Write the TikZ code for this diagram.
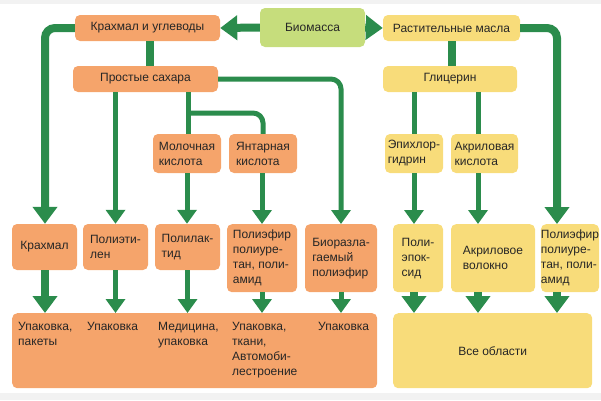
\documentclass[tikz,border=0pt]{standalone}
\usepackage{fontspec}
\setmainfont{Liberation Sans}
\usetikzlibrary{arrows.meta}
\definecolor{orb}{HTML}{F5A46B}
\definecolor{yeb}{HTML}{F8DC7A}
\definecolor{grb}{HTML}{C6DD7C}
\definecolor{ln}{HTML}{2B8C4C}
\begin{document}
\begin{tikzpicture}[x=1pt,y=-1pt,
  box/.style={rounded corners=5pt,inner sep=0pt,font=\fontsize{12}{15}\selectfont,text=black!85},
  ob/.style={box,fill=orb},
  yb/.style={box,fill=yeb},
  txt/.style={font=\fontsize{12}{15}\selectfont,text=black!85,inner sep=0pt,align=left,anchor=north west},
  thick8/.style={draw=ln,line width=8pt,rounded corners=10pt},
  thin5/.style={draw=ln,line width=5pt,rounded corners=10pt},
  a8/.style={thick8,-{Triangle[width=24pt,length=17pt]}},
  a5/.style={thin5,-{Triangle[width=19pt,length=14pt]}}]
\useasboundingbox (0,0) rectangle (601,400);
\fill[black!5] (0,0) rectangle (601,4);
\fill[black!5] (0,393) rectangle (601,400);
% nodes
\node[ob,minimum width=145,minimum height=26] (kiu) at (147.5,28) {Крахмал и углеводы};
\node[box,fill=grb,minimum width=105,minimum height=39] (bio) at (312.5,27.5) {Биомасса};
\node[yb,minimum width=137,minimum height=26] (rm) at (451.5,28) {Растительные масла};
\node[ob,minimum width=145,minimum height=26] (ps) at (145.5,79) {Простые сахара};
\node[yb,minimum width=134,minimum height=26] (gl) at (450,79) {Глицерин};
\node[ob,minimum width=68,minimum height=39,align=left] (mk) at (187,153.5) {Молочная\\кислота};
\node[ob,minimum width=68,minimum height=39,align=left] (yk) at (263,153.5) {Янтарная\\кислота};
\node[yb,minimum width=58,minimum height=39,align=left] (ep) at (414,153.5) {Эпихлор-\\гидрин};
\node[yb,minimum width=67,minimum height=39,align=left] (ak) at (484.5,153.5) {Акриловая\\кислота};
\node[ob,minimum width=65,minimum height=46] (kr) at (44.5,247) {Крахмал};
\node[ob,minimum width=65,minimum height=46,align=left] (pe) at (115.5,247) {Полиэти-\\лен};
\node[ob,minimum width=65,minimum height=46,align=left] (pl) at (187.5,247) {Полилак-\\тид};
\node[ob,minimum width=70,minimum height=68,align=left,anchor=north] (pu) at (262,224) {Полиэфир\\полиуре-\\тан, поли-\\амид};
\node[ob,minimum width=72,minimum height=68,align=left,anchor=north] (bp) at (341,224) {Биоразла-\\гаемый\\полиэфир};
\node[yb,minimum width=50,minimum height=68,align=left,anchor=north] (px) at (418,224) {Поли-\\эпок-\\сид};
\node[yb,minimum width=84,minimum height=68,align=left,anchor=north] (av) at (493,224) {Акриловое\\волокно};
\node[yb,minimum width=54,minimum height=68,align=left,anchor=north] (pu2) at (570,224) {Полиэфир\\полиуре-\\тан, поли-\\амид};
\node[ob,minimum width=365,minimum height=75,anchor=north west] (bo) at (12,313) {};
\node[yb,minimum width=199,minimum height=75,anchor=north west] (by) at (393,313) {Все области};
\node[txt] (t1) at (18,322) {Упаковка,\\пакеты};
\node[txt] (t2) at (87,322) {Упаковка};
\node[txt] (t3) at (158,322) {Медицина,\\упаковка};
\node[txt] (t4) at (232,322) {Упаковка,\\ткани,\\Автомоби-\\лестроение};
\node[txt] (t5) at (318,322) {Упаковка};
\coordinate (br) at (188,113);
\coordinate (rc) at (557,0);
\coordinate (lc) at (45,0);
\coordinate (mc) at (150,0);
\coordinate (ac) at (478,0);
% connectors
\draw[a8] (bio.west) -- (kiu.east);
\draw[a8] (bio.east) -- (rm.west);
\draw[a8] (kiu.west) -| (kr.north -| lc);
\draw[thick8] (kiu.south -| mc) -- (ps.north -| mc);
\draw[a5] (ps.south -| pe.north) -- (pe.north);
\draw[thin5] (ps.south -| br) -- (mk.north -| br);
\draw[thin5] (br) -| (yk.north);
\draw[a5] (ps.east) -| (bp.north);
\draw[a5] (mk.south) -- (pl.north -| mk.south);
\draw[a5] (yk.south -| pu.north) -- (pu.north);
\draw[thick8] (rm.south) -- (gl.north -| rm.south);
\draw[a8] (rm.east) -| (pu2.north -| rc);
\draw[thin5] (gl.south -| ep) -- (ep.north);
\draw[thin5] (gl.south -| ac) -- (ak.north -| ac);
\draw[a5] (ep.south) -- (px.north -| ep);
\draw[a5] (ak.south -| ac) -- (av.north -| ac);
\draw[a8] (kr.south -| lc) -- (bo.north -| lc);
\draw[a5] (pe.south) -- (bo.north -| pe);
\draw[a5] (pl.south) -- (bo.north -| pl);
\draw[a5] (pu.south) -- (bo.north -| pu);
\draw[a5] (bp.south) -- (bo.north -| bp);
\draw[a8] (px.south -| ep) -- (by.north -| ep);
\draw[a8] (av.south -| ac) -- (by.north -| ac);
\draw[a8] (pu2.south -| rc) -- (by.north -| rc);
\end{tikzpicture}
\end{document}
